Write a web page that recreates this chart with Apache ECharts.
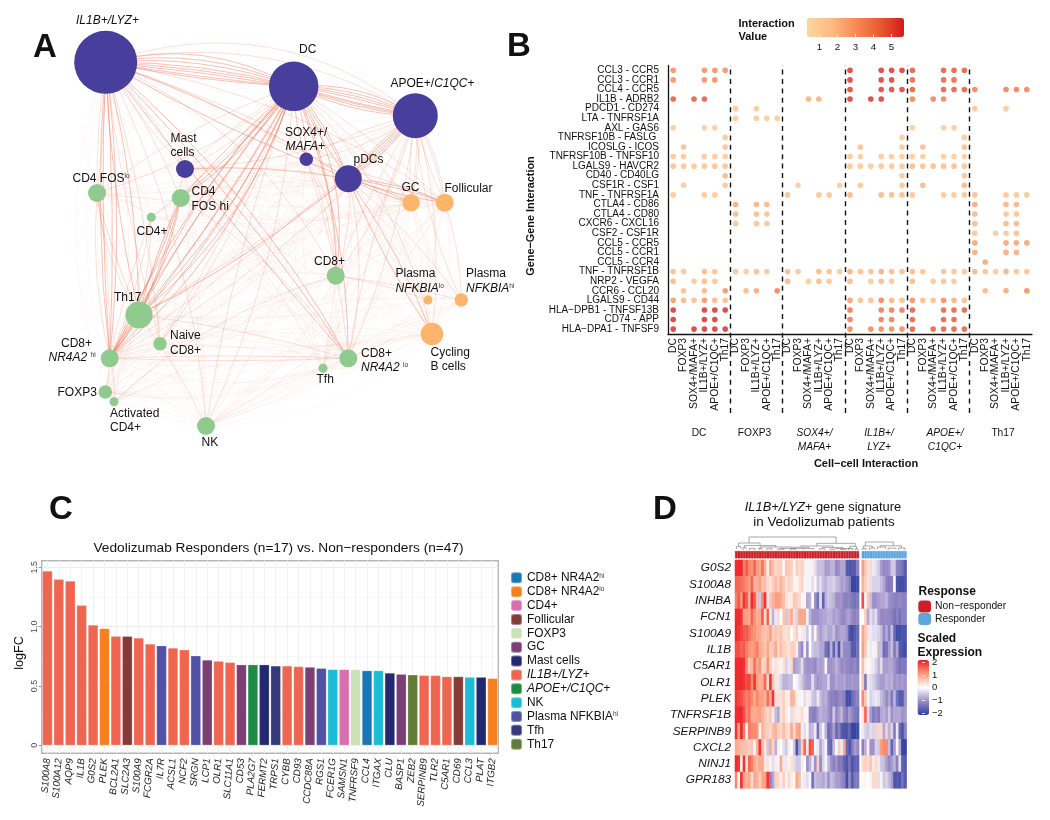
<!DOCTYPE html>
<html><head><meta charset="utf-8">
<style>html,body{margin:0;padding:0;background:#fff}#c{width:1050px;height:820px}</style>
<script src="https://cdn.jsdelivr.net/npm/echarts@6/dist/echarts.min.js"></script>
</head><body><div id="c"></div>
<script>
const FF='"Liberation Sans",Arial,sans-serif';
/* ---------- Panel A: network ---------- */
const nodeIds=['IL','DC','AP','MA','SO','PD','FL','FH','C4','GC','FO','C8','PL','PH','CY','TH','NA','NH','NL','TF','FX','AC','NK'];
const nodeX=[105.7,293.7,415.3,185,306.3,348.3,97,180.7,151.3,411,444.7,335.7,428,461.3,432,139,160,109.7,348.3,323,105.3,114,206];
const nodeY=[62.3,86.3,115.7,169,159.3,178.7,193,198,217.3,202.7,202.7,275.7,300,300,334,315,343.7,358.3,358.3,368.3,392,401.7,426];
const nodeDiam=[63,49.5,45,18,13.5,27,18,18,9,17.5,18,18,9,13.5,22.5,27,13.5,18,18,9,13.5,9,18];
const nodeKind=['m','m','m','m','m','m','t','t','t','b','b','t','b','b','b','t','t','t','t','t','t','t','t'];
const kindColor={m:'#473f9b',t:'#8fcb8e',b:'#fdb56c'};
const edgesStrong=[['IL','DC',[.2,.15,.11,.07,.04,.015,-.02,-.04]],['DC','AP',[.17,.12,.08,.04,-.02,-.04,-.07,-.11]],['IL','NH',[.03,-.03,.06,-.05]],['IL','TH',[.06,-.05]],['IL','NL',[.05,-.02,.09]],['IL','PD',[.06,-.04]],['DC','NH',[.04,-.04,.09,-.09,.14]],['DC','TH',[.05,-.05,.1,-.1,.15]],['DC','FH',[.05,-.03,.1]],['DC','PD',[.05,-.05,.1]],['DC','C8',[.12,.2]],['DC','NL',[.1]],['DC','SO',[.08,-.08]],['AP','PD',[.05,-.05,.1,-.1]],['AP','TH',[.08]],['PD','GC',[.05,-.05]],['PD','FO',[.05,-.05,.1]],['PD','CY',[.06,-.05]],['TH','NH',[.04,-.04]],['FH','NH',[.05,.12]],['FH','TH',[.05,-.05]],['MA','PD',[.06]]];
const edgesMedium=[['IL','AP',[.2,.27]],['IL','FL',[.03,-.04]],['IL','MA',[.05,-.06]],['IL','FH',[.06]],['IL','C8',[.18]],['IL','SO',[.08]],['IL','GC',[.06]],['IL','FO',[.12]],['IL','NK',[.1]],['IL','NA',[.05,-.04]],['DC','MA',[.1,-.05]],['DC','NK',[.1,-.05]],['DC','FL',[.1,-.08]],['DC','CY',[.15]],['DC','GC',[.06]],['DC','FO',[.05]],['DC','NA',[.04,.08]],['DC','C4',[.05]],['AP','NH',[.1,.03]],['AP','NL',[.08,-.06]],['AP','C8',[.1,-.05]],['AP','GC',[.07,-.07,.12]],['AP','FO',[.07,-.07,.12]],['AP','CY',[.1]],['AP','MA',[.08]],['AP','SO',[.12,-.1]],['AP','PH',[-.1]],['SO','C8',[.1,.18]],['SO','NL',[.06]],['SO','FO',[.05]],['PD','PH',[.06]],['PD','NL',[.12]],['PD','TH',[.03]],['PD','C8',[.12]],['C8','PH',[.03]],['C8','PL',[.05]],['NH','NL',[.02,-.02]],['TH','FL',[.05,.12]],['TH','NK',[.05]],['NH','AC',[.08]],['NH','FX',[.06]],['C4','NH',[.06,-.04]],['C4','TH',[.05]],['MA','NH',[.07]],['FL','NH',[.05,-.08]],['FH','NL',[.1]],['FO','PH',[.08]],['TH','NL',[.04]],['AC','C8',[.12]]];
const edgesFaint='IL-PL IL-PH IL-CY IL-TF IL-FX IL-AC IL-C4 DC-TF DC-FX DC-AC DC-PL DC-PH AP-FL AP-FH AP-C4 AP-NA AP-TF AP-NK AP-FX AP-AC AP-PL MA-FL MA-FH MA-GC MA-FO MA-C8 MA-TH MA-NA MA-NL MA-NK MA-TF MA-CY SO-MA SO-PD SO-GC SO-FL SO-FH SO-TH SO-NH SO-NA SO-NK SO-TF SO-CY SO-PH SO-PL PD-FL PD-FH PD-NH PD-NA PD-NK PD-TF PD-PL PD-AC PD-FX FL-FH FL-GC FL-FO FL-C4 FL-C8 FL-NA FL-NL FL-NK FL-FX FL-AC FH-GC FH-FO FH-C4 FH-C8 FH-NA FH-NK FH-TF C4-GC C4-C8 C4-NL C4-NK GC-FO GC-C8 GC-PL GC-PH GC-CY GC-NL GC-TF GC-NK GC-TH GC-NH FO-C8 FO-PL FO-CY FO-NL FO-TF FO-NK FO-TH FO-NH C8-CY C8-TH C8-NH C8-NA C8-NK C8-NL C8-TF PL-PH PL-CY PL-NL PL-TH PH-CY PH-NL PH-NK PH-NH CY-NL CY-NK CY-TH CY-NH CY-TF CY-NA TH-NA TH-FX TH-AC TH-TF NA-NH NA-NL NA-NK NA-FX NA-AC NH-NK NH-TF NL-TF NL-NK NL-FX NL-AC TF-NK TF-FX FX-AC FX-NK AC-NK PH-FX PL-NK CY-FX';
const faintBend=[.14,-.1,.2,.06,-.18,.11,-.05,.17,-.14,.03];
/* ---------- Panel B: gene-pair dot plot ---------- */
const pairNames=['CCL3 - CCR5','CCL3 - CCR1','CCL4 - CCR5','IL1B - ADRB2','PDCD1 - CD274','LTA - TNFRSF1A','AXL - GAS6','TNFRSF10B - FASLG ','ICOSLG - ICOS','TNFRSF10B - TNFSF10','LGALS9 - HAVCR2','CD40 - CD40LG','CSF1R - CSF1','TNF - TNFRSF1A','CTLA4 - CD86','CTLA4 - CD80','CXCR6 - CXCL16','CSF2 - CSF1R','CCL5 - CCR5','CCL5 - CCR1','CCL5 - CCR4','TNF - TNFRSF1B','NRP2 - VEGFA','CCR6 - CCL20','LGALS9 - CD44','HLA\u2212DPB1 - TNFSF13B','CD74 - APP','HLA\u2212DPA1 - TNFSF9'];
const a='APOE+/C1QC+',il='IL1B+/LYZ+',s4='SOX4+/MAFA+';
const cellCols=['DC','FOXP3',s4,il,a,'Th17','DC','FOXP3',il,a,'Th17','DC','FOXP3',s4,il,a,'Th17','DC','FOXP3',s4,il,a,'Th17','DC','FOXP3',s4,il,a,'Th17','DC','FOXP3',s4,il,a,'Th17'];
const dividerAt=[6,11,17,23,29];
/* each row: {column index: interaction value} */
const dotRows=[
{0:3.2,3:3.2,4:3.2,5:3.2,17:5.4,20:5.4,21:5.4,22:5.4,23:4.6,26:4.6,27:4.6,28:4.6},
{0:3.2,3:3.2,4:3.2,17:5.3,20:5.3,21:5.3,23:4.4,26:4.4,27:4.4},
{17:5.2,20:5.2,21:5.2,22:5.2,23:4.6,26:4.6,27:4.6,28:4.6,29:3.6,32:3.6,33:3.6,34:3.6},
{0:4.6,2:4.6,3:4.6,13:2.2,14:2.2,17:5.4,19:5.4,20:5.4,23:3.6,25:3.6,26:3.6},
{6:1.3,8:1.3,29:1.4,32:1.3},
{6:1.2,8:1.3,9:1.2,10:1.2},
{0:1.2,3:1.1,4:1.1,23:1.1,26:1.1,27:1.1},
{5:1.4,22:1.2,28:1.1},
{1:1.8,5:1.7,18:1.7,22:1.3,24:1.8,28:1.7},
{0:1.5,1:1.4,3:1.5,4:1.4,5:1.3,17:1.3,18:1.1,20:1.3,21:1.2,22:1.1,23:1.2,24:1,26:1.1,27:1.1,28:1},
{0:1.7,1:1.5,2:1.4,3:1.6,4:1.5,5:1.5,17:1.5,18:1.4,19:1.3,20:1.5,21:1.4,22:1.3,23:1.9,24:1.7,25:1.7,26:1.8,27:1.7,28:1.6},
{5:2,22:1.3,28:1.5},
{1:1.2,5:1.3,12:1.1,16:1.1,18:1.4,22:1.4,24:1.9,28:2},
{0:1.4,3:1.4,4:1.3,11:1.7,14:1.6,15:1.5,17:2,20:2,21:1.9,22:1.8,23:1.5,26:1.4,27:1.3,28:1.3,29:1.8,32:1.5,33:1.5,34:1.4},
{6:2.4,8:2.2,9:2.1,29:2.5,32:2.2,33:2.2},
{6:2,8:1.9,9:1.8,29:2.1,32:1.5,33:1.6},
{6:1.6,8:1.6,9:1.6,29:2,32:1.9,33:1.9},
{29:1.6,31:1.2,32:1.4,33:1.7},
{29:2.6,32:2.6,33:2.6,34:2.6},
{29:2.3,32:2.4,33:2.3},
{30:2.5},
{0:1.8,1:1.6,3:1.9,4:1.6,6:1.6,7:1.3,8:1.9,9:1.5,11:1.9,12:1.4,14:1.9,15:1.7,16:1.3,17:2.2,18:1.8,19:1.8,20:2.4,21:1.9,22:1.8,23:1.9,24:1.6,26:1.8,27:1.6,28:1.4,29:2,30:1.7,31:1.3,32:2.2,33:1.6,34:1.5},
{0:2,2:1.3,3:1.9,4:1.5,11:2.1,13:1.2,14:1.9,15:1.5,17:1.9,19:1.2,20:1.9,21:1.4,23:1.9,25:1.3,26:1.7,27:1.3},
{1:1.7,3:2,5:3,7:2,8:2.5,10:3.6,30:2,32:2.5,34:3.2},
{0:2.8,1:2,2:1.8,3:3,4:2,5:1.8,17:2.8,18:1.8,19:1.7,20:3.5,21:2.1,22:1.7,23:3.2,24:1.8,25:1.7,26:3.3,27:2.2,28:1.8},
{0:5.5,3:5.5,4:5.5,5:5.5,17:3.9,20:3.9,21:3.9,22:3.9,23:4.6,26:4.5,27:4.5,28:4.6},
{0:5.5,3:5.5,4:5.5,17:3.8,20:3.8,21:3.8,23:4.5,26:4.5,27:4.5},
{0:5.5,2:5.5,3:5.5,4:5.5,5:5.5,17:3.4,19:3.4,20:3.4,21:3.4,22:3.4,23:4.5,25:4.5,26:4.5,27:4.5,28:4.5}
];
const dotScaleColors=['#fdd5a0','#fdbb84','#f98a56','#ea5a30','#d31a1c'];
/* ---------- Panel C: logFC bars ---------- */
const barGenes=['S100A8','S100A12','AQP9','IL1B','G0S2','PLEK','BCL2A1','SLC2A3','S100A9','FCGR2A','IL7R','ACSL1','NCF2','SRGN','LCP1','OLR1','SLC11A1','CD53','PLA2G7','FERMT2','TRPS1','CYBB','CD93','CCDC88A','RGS1','FCER1G','SAMSN1','TNFRSF9','CCL4','ITGAX','CLU','BASP1','ZEB2','SERPINB9','TLR2','C5AR1','CD69','CCL3','PLAT','ITGB2'];
const barValues=[1.47,1.4,1.385,1.18,1.015,.985,.92,.92,.905,.855,.84,.82,.805,.755,.72,.71,.7,.68,.68,.68,.67,.67,.665,.66,.65,.64,.64,.64,.63,.63,.61,.6,.595,.59,.59,.58,.58,.575,.575,.565];
const barGroups=[7,7,7,7,7,1,7,3,7,7,10,7,7,10,5,7,7,5,8,6,11,7,7,5,10,9,2,4,0,9,6,5,12,7,7,7,3,9,6,1];
const groupNames=['CD8+ NR4A2hi','CD8+ NR4A2lo','CD4+','Follicular','FOXP3','GC','Mast cells','IL1B+/LYZ+','APOE+/C1QC+','NK','Plasma NFKBIAhi','Tfh','Th17'];
const groupColors=['#1a76b5','#f67f1e','#d870ae','#873b38','#cbe2b6','#7b3f75','#222970','#ef6650','#1e8b43','#1cbcd5','#4f52a5','#35397a','#607c36'];
/* ---------- Panel D: heatmap ---------- */
const heatGenes=['G0S2','S100A8','INHBA','FCN1','S100A9','IL1B','C5AR1','OLR1','PLEK','TNFRSF1B','SERPINB9','CXCL2','NINJ1','GPR183'];
const hG0S2=[2,2,2,1.3,1.6,1.2,1.1,1.5,1,.9, 1.4,.8,.2,.9,.7,.4,.5,.5,.1,.6, .6,.5,.1,.5,.4,.5,.2,-.1,-.1,.2, -.3,-.6,-.6,-.6,-.9,-.9,-.7,-.7,-1.1,-1, -.8,-.8,-1.7,-1.8,-1.7,-1.7,-1.2, 1,.6,.3,.4,-.2,-.3,-.5,-.9,-1.1,-1.1, -1,-.5,-.5,-1.2,-1.3,-1.4,-1.7];
const hS100A8=[1.5,1.5,1.4,1.3,1.2,1,1.5,.8,.8,1, .6,.7,.4,.3,.5,.7,.5,.8,.6,.3, .5,.4,.1,.1,.3,.5,.1,-.1,-.1,-.3, .1,-.5,-.3,-.6,-.7,-.5,-.5,-.4,-.6,-.7, -.9,-.8,-1,-1.2,-2,-2,-1.9, .8,.5,.3,-.3,-.4,-.4,-.4,-.6,-.8,-1.2, -1.3,-1.2,.1,-1.8,-1.9,-1.9,-1.8];
const hINHBA=[1.3,1.6,1.1,1.9,1.6,.8,2,1.6,.7,-.5, 1.2,1.9,-.2,.6,.8,1,1,.9,.7,.3, .2,.2,.6,.5,.4,.1,-.1,-.8,-.7,0, -1,-1.4,-.3,-1.6,-.7,-.5,-.6,-.7,-1,-1, -1,-1.2,-1.2,-1.2,-1.3,-1.4,-1.3, 1.7,-.1,.6,-.6,-1,-1,-.9,-.8,-.8,-.7, -1,-1.1,-1.2,-1.2,-1.1,-1.2,-1.2];
const hFCN1=[2,2,1.9,1,1,.9,1.5,1.1,.8,.9, 1.6,.3,1.5,.2,-.7,-.2,.4,0,.6,-.5, .6,.9,.3,-.4,.9,.9,.9,-.1,-.7,-1, -1,-1,-.9,-.8,-.8,-.7,-.7,-.9,-.8,-.9, -1.1,-1.1,-.9,-.9,-1.1,-1.2,-1.1, 0,.5,-.8,-.3,-.5,-.3,-.9,-1.1,-1.1,-1.1, -1.1,-1.2,-1.4,-1.2,-1.4,-1.2,-1.2];
const hS100A9=[2,1.9,1.8,1.6,1.6,1.4,1.2,1.1,.9,.9, .7,.6,.7,1,.5,.6,.5,.6,.4,.3, .4,0,.3,.5,.1,.2,-.2,-.5,0,-.6, .1,-.7,-.9,-.7,-.6,-.8,-.8,-.6,-1,-.9, -.8,-.8,-1,-1.8,-1.9,-1.7,-1.5, .9,.6,.3,-.2,-.3,-.3,-.4,-.6,-1.1,-.8, -1.2,-.6,-1.5,-1.9,-1.9,-1.8,-1.8];
const hIL1B=[1.7,1.7,1.5,1.6,1.3,1.1,1,1.1,1.3,.9, .8,.6,.9,.5,.6,.9,.4,.7,.5,.4, .3,.5,.5,.2,-.8,-1.1,.2,-1,0,-.5, -.6,-.6,-.8,-.8,-1.4,-1.6,-.7,-1.6,-.8,-1.8, -.7,-1.1,-1.1,-1.2,-1.7,-1.7,-1.4, 1,.6,-.1,-.2,-.1,.2,-.6,-.6,-1.5,-1.4, -.9,-.6,-1.3,-.8,-1.7,-1.8,-1.9];
const hC5AR1=[2,2,2,1.9,1.2,.6,.8,1.4,.9,1.1, .4,.5,1.1,.5,.2,.3,.2,.1,.3,-.4, -.2,.4,-.9,-.8,-.7,-.3,-.9,-1,-1,-1, -1.1,-.8,-.9,-.8,-.1,-1,-1,-.9,-.7,-.9, -1.1,-1,-1.1,-1.2,-1.2,-1.1,-1.3, .7,.2,0,.2,-.2,-.4,-.7,-.3,-.9,-.9, -.8,-.8,-1,-1.2,-1.4,-1.3,-1.3];
const hOLR1=[2,2,2,1.9,1.7,1.8,1.2,1.9,1,.8, .9,1.5,.4,1.9,.6,.3,-.2,-.4,-.7,-.7, -.6,-.6,0,-.1,-.3,-.5,-.8,-.9,-.9,-.3, -.8,-1,-.9,-.8,-.8,-.4,-1,-1,-.8,-.9, -.9,-.8,-1,-1,-.9,-1,-1, .6,-1.3,-.2,-.3,-.4,-.6,-.8,-.9,-.9,-.7, -.8,-.7,-1,-.9,-1,-.9,-1];
const hPLEK=[1.9,1.8,1.7,1.5,1.3,1.4,1.2,.9,1.2,1, 1,.8,1.4,.9,1.9,.3,.3,.3,.5,.2, .2,.8,.7,.2,-.1,.1,-.3,.2,-.2,-.5, -.6,-.2,-.6,-.8,-.7,-1,-1.2,-1.2,-1.3,-1.1, -1.1,-1.2,-1.9,-1.9,-1.5,-1.3,-1.2, 1.2,.6,-.1,-.4,-.3,-.2,-.3,-.6,-.8,-1.1, -.8,-1.3,-.7,-1.4,-1.7,-1.7,-1];
const hTNFRSF1B=[2,2,2,1.7,1.2,1.4,.9,.9,.9,1, .8,.6,.4,.6,.2,-.6,-.8,.3,.5,.2, .1,-.3,.3,.2,.2,.4,-.1,.1,-1.1,-1.2, -1.2,-.9,-.7,-.8,-.8,-1,-1.2,-.5,-1.1,-.9, -.7,-1.1,-1.3,-.9,-1.1,-1.3,-1.4, .3,1.5,-.3,-.9,-1.3,-1.1,-1.3,-.8,-.7,-.9, -.5,-1,-.8,-.8,-.8,-1,-.9];
const hSERPINB9=[1.9,1,2,1.3,.1,1.3,1.2,1.2,1.1,.1, .8,.6,.5,.4,.7,.8,.5,.4,.7,.4, .3,.9,.4,.9,1,-.1,-.3,.1,-.7,-.6, -.2,-1.4,-.5,-.1,-.7,-1.5,-1.3,-.9,-1.5,-1.2, -1.7,-1.8,-1.8,-1.6,-2,-2,-1.9, -.2,-.4,-.5,-.3,-.4,.5,-.3,.4,-.8,.5, -.7,-.4,-1.3,-.2,-1.5,-1.8,-1.2];
const hCXCL2=[.9,.8,.7,.7,.6,.5,.6,-.1,.8,1.9, .7,.3,-.5,.9,.4,-.7,.2,0,-.3,-.5, .2,0,-.5,-1.8,-.9,.5,1.5,.2,1.7,1.5, -.1,-.2,-.8,-.4,-.1,-1.4,-1.6,-.6,.1,.5, -.2,.9,-1.5,-1.8,-1.3,-.9,-1.1, -1.2,-.7,.2,-1,-1,-.4,-.5,1,1.2,1.2, -.6,-1.6,-.9,.1,-.8,-2,-2];
const hNINJ1=[2,1.9,.2,1.9,.3,1.5,1.3,.9,.7,.9, .9,.2,.3,-.1,-.3,.2,-.1,.9,-.2,.3, .1,.3,-.3,-.5,-.5,.2,0,-1,-.7,-.2, -1,.5,-1.1,-.4,-.1,-.6,-1,-1.2,-1,-1.3, -1.3,-1.6,-1.8,-1.4,-1.8,-1.6,-1.6, .4,.5,.4,.6,.2,.4,-.2,-.5,-.6,-.9, -1.1,-.9,-.7,-1.2,-.3,-1.6,-1.7];
const hGPR183=[1.2,.1,1.9,1,.8,.9,.4,.9,.8,.5, .9,1,1.9,-1.2,-.8,.5,.4,.2,.5,-.1, .4,.2,.1,.9,.7,-.1,-.2,-.3,-.1,-1.4, -.6,-.7,-.7,-.8,-.6,-1,-.6,-.7,-.9,-.9, -1.1,-1.2,-1.9,-1.1,-1.7,-1.3,-1.3, .1,.1,0,-.1,.4,.4,-.3,-.1,-.5,-.4, -.6,-.9,-1.8,-1.7,-1.8,-1.4,-1.7];
const heatRows=[hG0S2,hS100A8,hINHBA,hFCN1,hS100A9,hIL1B,hC5AR1,hOLR1,hPLEK,hTNFRSF1B,hSERPINB9,hCXCL2,hNINJ1,hGPR183];
const nNon=47,nResp=17;
const heatScale=['#2b3f9f','#9a8cc6','#ffffff','#fb9a7a','#ee1c25'];
/* dendrogram merges: left, right, top, left base, right base */
const dendroMerges=[[5.3,38.3,13,7,6.7],[1.3,9.5,7,3.4,4.4],[.6,2.2,3.4,1,1.5],[3.5,15.5,4.4,2.4,3],[3,4.2,2.4,0,.8],[5.5,7.5,1.6,0,0],[9.5,21.5,3,1.5,1.6],[9,10.2,1.5,0,0],[12,14,1.2,0,0],[17,26,1.6,.8,1],[16,18.5,.8,0,0],[31,45.5,6.7,4,3.8],[25,37,4,2.8,2.4],[22,28,2.8,1,1.4],[21,23,1,0,0],[26,30,1.4,.6,.6],[33,41,2.4,1.2,1.4],[32,34,1.2,0,0],[36,37.5,.8,0,0],[38,44,1.4,.7,.9],[40,42,.7,0,0],[43.5,46,3.8,1.6,1],[43,44.6,1.6,0,0],[45.5,46.6,1,0,0],[49.4,60,8,4,4.2],[48.6,52,4,1.5,2],[48.4,49.6,1.5,0,0],[51,53,2,0,.8],[55,63,4.2,3,2],[54,57,3,1,1.2],[58,61,1.8,0,.8],[62,64.4,2,0,0]];
const annotNon=Array.from({length:65},(_,i)=>i<nNon?1:null);
const annotResp=Array.from({length:65},(_,i)=>i>nNon?1:null);

/* ---------- helpers ---------- */
const richFor=s=>({n:{fontSize:s,fontFamily:FF,fill:'#111'},i:{fontSize:s,fontFamily:FF,fontStyle:'italic',fill:'#111'},s:{fontSize:s*.55,fontFamily:FF,fill:'#333',verticalAlign:'top'},b:{fontSize:s,fontFamily:FF,fontWeight:'bold',fill:'#111'}});
function T(x,y,text,size,extra){extra=extra||{};return {type:'text',x,y,rotation:extra.rot||0,silent:true,z:50,style:{text,fontFamily:FF,fontSize:size||12,fontWeight:extra.w||'normal',fontStyle:extra.st||'normal',fill:extra.c||'#111',align:extra.a||'left',verticalAlign:'middle',rich:richFor(size||12)}}}

const graphic=[
 T(33,48,'A',33,{w:'bold'}),T(507,47,'B',33,{w:'bold'}),T(49,510,'C',33,{w:'bold'}),T(653,510,'D',33,{w:'bold'}),
 // A labels
 T(76,21,'{i|IL1B+/LYZ+}',12),T(299,50,'DC',12),T(390.5,84,'APOE+/{i|C1QC}+',12),T(170.5,138.5,'Mast',12),T(170.5,153,'cells',12),
 T(285,132.5,'SOX4+/',12),T(285.5,147,'{i|MAFA}+',12),T(353.5,159.5,'pDCs',12),T(72.5,178.5,'CD4 FOS{s|lo}',12),T(191.5,192,'CD4',12),T(191.5,206.5,'FOS hi',12),T(136.5,232,'CD4+',12),T(401.5,187.5,'GC',12),T(444.5,189,'Follicular',12),T(314,262,'CD8+',12),
 T(395.5,274,'Plasma',12),T(395.5,288.5,'{i|NFKBIA}{s|lo}',12),T(466,274,'Plasma',12),T(466,288.5,'{i|NFKBIA}{s|hi}',12),
 T(114,297.5,'Th17',12),T(170,336,'Naive',12),T(170,351,'CD8+',12),T(61,343.5,'CD8+',12),T(48.5,358,'{i|NR4A2} {s|hi}',12),T(361,353.5,'CD8+',12),T(361,368,'{i|NR4A2} {s|lo}',12),T(430.5,352.5,'Cycling',12),T(430.5,367,'B cells',12),T(316.5,380,'Tfh',12),T(57.5,393,'FOXP3',12),T(110,413.5,'Activated',12),T(110,428,'CD4+',12),T(201.5,443,'NK',12),
 // B text
 T(738.5,23.5,'Interaction',11,{w:'bold'}),T(738.5,37,'Value',11,{w:'bold'}),
 T(530.5,216,'Gene\u2212Gene Interaction',10.9,{w:'bold',a:'center',rot:Math.PI/2}),
 T(699,433.5,'DC',10.2,{a:'center'}),T(754.5,433.5,'FOXP3',10.2,{a:'center'}),T(814.5,433.5,'{i|SOX4+/}',10.2,{a:'center'}),T(814.5,447,'{i|MAFA+}',10.2,{a:'center'}),T(879,433.5,'{i|IL1B+/}',10.2,{a:'center'}),T(879,447,'{i|LYZ+}',10.2,{a:'center'}),T(945,433.5,'{i|APOE+/}',10.2,{a:'center'}),T(945,447,'{i|C1QC+}',10.2,{a:'center'}),T(1003,433.5,'Th17',10.2,{a:'center'}),
 T(866,463.5,'Cell\u2212cell Interaction',11,{w:'bold',a:'center'}),
 // C text
 T(278.5,548,'Vedolizumab Responders (n=17) vs. Non\u2212responders (n=47)',13.7,{a:'center'}),
 T(20,653,'logFC',12.6,{a:'center',rot:Math.PI/2}),
 // D text
 T(823,507,'{i|IL1B+/LYZ+} gene signature',12.9,{a:'center'}),T(824,522.5,'in Vedolizumab patients',13.4,{a:'center'}),
 T(918.5,592,'Response',12,{w:'bold'}),T(917.5,639,'Scaled',12,{w:'bold'}),T(917.5,653,'Expression',12,{w:'bold'})
];

/* ---------- series ---------- */
const links=[];
const addB=(list,w,op)=>list.forEach(([s,t,cs])=>cs.forEach(c=>links.push({source:s,target:t,lineStyle:{width:w,opacity:op,curveness:c}})));
edgesFaint.split(' ').forEach((p,i)=>{const [s,t]=p.split('-');links.push({source:s,target:t,lineStyle:{width:.6,opacity:.11,curveness:faintBend[i%faintBend.length]}});links.push({source:s,target:t,lineStyle:{width:.6,opacity:.07,curveness:faintBend[(i+3)%faintBend.length]}})});
addB(edgesMedium,.75,.25);addB(edgesStrong,.9,.42);
const graphNodes=nodeIds.map((id,i)=>({name:id,value:[nodeX[i],nodeY[i]],symbolSize:nodeDiam[i],itemStyle:{color:kindColor[nodeKind[i]],borderWidth:0}}));
const dotData=[];dotRows.forEach((r,y)=>Object.keys(r).forEach(c=>dotData.push([+c,y,r[c]])));
const heatData=[];heatRows.forEach((r,y)=>r.forEach((v,c)=>heatData.push([c<nNon?c:c+1,y,v])));
const series=[
 {type:'graph',coordinateSystem:'cartesian2d',xAxisIndex:0,yAxisIndex:0,layout:'none',roam:false,silent:true,data:graphNodes,links,lineStyle:{color:'#ec5a38'},label:{show:false},z:2,animation:false},
 {type:'scatter',name:'dots',xAxisIndex:1,yAxisIndex:1,data:dotData,symbolSize:5.6,silent:true,z:3},
 {type:'line',name:'dividers',xAxisIndex:2,yAxisIndex:2,data:[],symbol:'none',silent:true,markLine:{silent:true,symbol:'none',animation:false,label:{show:false},lineStyle:{color:'#111',width:1.4,type:[5,4.4]},data:dividerAt.map(v=>({xAxis:v}))}},
 {type:'custom',name:'dendro',xAxisIndex:5,yAxisIndex:6,data:dendroMerges,encode:{x:[0,1],y:[2]},silent:true,clip:false,renderItem:(p,api)=>{const m=dendroMerges[p.dataIndex];const pts=[[m[0],m[3]],[m[0],m[2]],[m[1],m[2]],[m[1],m[4]]].map(q=>api.coord(q));return {type:'polyline',shape:{points:pts},style:{stroke:'#6f6f6f',lineWidth:.6,fill:null}}}},
 {type:'heatmap',name:'heat',xAxisIndex:7,yAxisIndex:8,data:heatData,silent:true,itemStyle:{borderWidth:0}},
 {type:'bar',name:'Non\u2212responder',xAxisIndex:6,yAxisIndex:7,data:annotNon,stack:'r',barWidth:'100%',silent:true,itemStyle:{color:'#cb2027',borderColor:'#cb2027',borderWidth:.6}},
 {type:'bar',name:'Responder',xAxisIndex:6,yAxisIndex:7,data:annotResp,stack:'r',barWidth:'100%',silent:true,itemStyle:{color:'#5ba6e0',borderColor:'#5ba6e0',borderWidth:.6}}
];
groupNames.forEach((g,gi)=>series.push({type:'bar',name:g,xAxisIndex:4,yAxisIndex:4,stack:'c',barWidth:'89%',silent:true,data:barValues.map((v,i)=>barGroups[i]===gi?v:null),itemStyle:{color:groupColors[gi],borderColor:'rgba(255,255,255,.35)',borderWidth:.6}}));

const hide={show:false};
const lab=(o)=>Object.assign({fontFamily:FF,color:'#111'},o);
const option={
 animation:false,backgroundColor:'#fff',textStyle:{fontFamily:FF},
 grid:[
  {left:0,top:0,width:510,height:470},
  {left:668,top:65.5,width:364,height:268.4},
  {left:668,top:65,width:364,height:348},
  {left:801.6,top:18,width:107.8,height:19},
  {left:41.7,top:560.7,width:456.6,height:192.6,show:true,borderColor:'#b5b5b5',borderWidth:1.4,backgroundColor:'#fff'},
  {left:735,top:537,width:171.6,height:13},
  {left:735,top:551,width:171.6,height:7.4},
  {left:735,top:560,width:171.6,height:228.3},
  {left:925,top:662,width:4,height:51.5}
 ],
 xAxis:[
  {gridIndex:0,type:'value',min:0,max:510,show:false},
  {gridIndex:1,type:'category',data:cellCols,axisLine:{lineStyle:{color:'#111',width:1.3}},axisTick:{alignWithLabel:true,length:3,lineStyle:{color:'#111'}},axisLabel:lab({interval:0,rotate:90,fontSize:10.4,margin:4})},
  {gridIndex:2,type:'value',min:0,max:35,show:false},
  {gridIndex:3,type:'value',min:0,max:6,interval:1,z:20,axisLine:hide,splitLine:hide,axisTick:{inside:true,length:3,lineStyle:{color:'#fff',width:.8}},axisLabel:lab({fontSize:9.7,margin:5,formatter:v=>(v===0||v===6)?'':String(v)})},
  {gridIndex:4,type:'category',data:barGenes,axisLine:hide,axisTick:{alignWithLabel:true,length:3,lineStyle:{color:'#999'}},splitLine:{show:true,alignWithLabel:true,lineStyle:{color:'#f2f2f2',width:1}},axisLabel:lab({interval:0,rotate:86,fontSize:9.8,fontStyle:'italic',margin:5,color:'#222'})},
  {gridIndex:5,type:'value',min:0,max:65,show:false},
  {gridIndex:6,type:'category',data:Array.from({length:65},(_,i)=>String(i)),show:false},
  {gridIndex:7,type:'category',data:Array.from({length:65},(_,i)=>String(i)),show:false},
  {gridIndex:8,type:'value',show:false}
 ],
 yAxis:[
  {gridIndex:0,type:'value',min:0,max:470,inverse:true,show:false},
  {gridIndex:1,type:'category',inverse:true,data:pairNames,axisLine:{lineStyle:{color:'#111',width:1.3}},axisTick:{length:3,alignWithLabel:true,lineStyle:{color:'#111'}},axisLabel:lab({interval:0,fontSize:10,margin:9})},
  {gridIndex:2,type:'value',min:0,max:1,show:false},
  {gridIndex:3,type:'value',min:0,max:1,show:false},
  {gridIndex:4,type:'value',min:-.067,max:1.556,axisLine:hide,axisTick:{show:true,length:3,customValues:[0,.5,1,1.5],lineStyle:{color:'#999'}},splitLine:{show:true,lineStyle:{color:'#ececec',width:1}},axisLabel:lab({customValues:[0,.5,1,1.5],rotate:90,fontSize:9,color:'#4d4d4d',margin:3,formatter:v=>v===0?'0':v.toFixed(1)})},
  {gridIndex:4,type:'value',min:-.067,max:1.556,axisLine:hide,axisLabel:{show:false},axisTick:{show:false,customValues:[.25,.75,1.25]},splitLine:{show:true,lineStyle:{color:'#f6f6f6',width:.8}}},
  {gridIndex:5,type:'value',min:0,max:13,show:false},
  {gridIndex:6,type:'value',min:0,max:1,show:false},
  {gridIndex:7,type:'category',inverse:true,data:heatGenes,axisLine:hide,axisTick:hide,axisLabel:lab({interval:0,fontSize:11.8,fontStyle:'italic',margin:4})},
  {gridIndex:8,type:'value',position:'right',min:-2,max:2,interval:1,axisLine:hide,axisTick:{inside:true,length:3,lineStyle:{color:'#fff',width:.8}},z:20,splitLine:hide,axisLabel:lab({fontSize:9.5,margin:3,formatter:v=>String(v).replace('-','\u2212')})}
 ],
 visualMap:[
  {type:'continuous',seriesIndex:1,dimension:2,min:.3,max:5.7,orient:'horizontal',left:792,top:3,itemWidth:19,itemHeight:97,calculable:false,hoverLink:false,text:null,inRange:{color:dotScaleColors}},
  {type:'continuous',seriesIndex:4,dimension:2,min:-2.1,max:2.1,orient:'vertical',left:902.5,top:645,itemWidth:11.5,itemHeight:55,calculable:false,hoverLink:false,text:null,inRange:{color:heatScale}}
 ],
 legend:[
  {data:groupNames,orient:'vertical',left:505,top:566.3,padding:5,itemWidth:11,itemHeight:11,itemGap:.87,selectedMode:false,textStyle:{fontFamily:FF,fontSize:11.9,lineHeight:11,color:'#111',rich:{n:{fontSize:11.9,lineHeight:11,fontFamily:FF,color:'#111'},i:{fontSize:11.9,lineHeight:11,fontFamily:FF,fontStyle:'italic',color:'#111'},s:{fontSize:6.5,lineHeight:11,fontFamily:FF,color:'#333',verticalAlign:'top'}}},
   formatter:n=>n==='IL1B+/LYZ+'?'{i|IL1B+/LYZ+}':n==='APOE+/C1QC+'?'{i|APOE+/C1QC+}':n.replace(/(hi|lo)$/,'{s|$1}')},
  {data:['Non\u2212responder','Responder'],orient:'vertical',left:913.3,top:595.5,itemWidth:10.7,itemHeight:10,itemGap:.6,selectedMode:false,textStyle:{fontFamily:FF,fontSize:10.3,lineHeight:10,color:'#111'}}
 ],
 graphic:{elements:graphic},
 series
};
const ch=echarts.init(document.getElementById('c'),null,{renderer:'canvas'});
ch.setOption(option);
</script></body></html>
